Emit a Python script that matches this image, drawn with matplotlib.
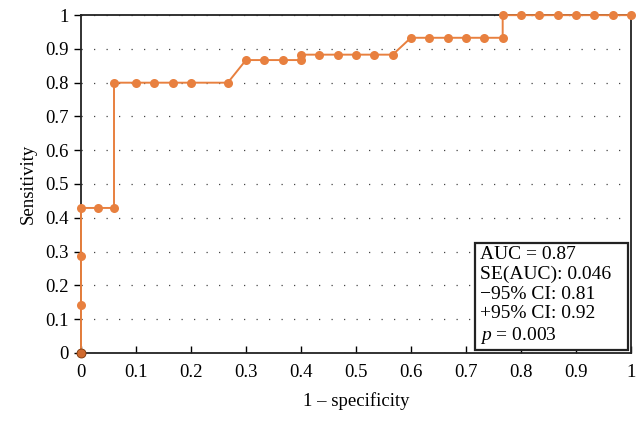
import matplotlib

matplotlib.use('Agg')

import matplotlib.pyplot as plt
from matplotlib.patches import Rectangle

plt.rcParams.update({
    'font.family': 'Liberation Serif',
    'font.size': 12,
    'mathtext.fontset': 'custom',
    'mathtext.rm': 'Liberation Serif',
    'mathtext.it': 'Liberation Serif:italic',
})

# ROC points
fpr = [0, 0, 0, 0, 0.03, 0.06, 0.06, 0.1, 0.133, 0.167, 0.2, 0.267,
       0.3, 0.333, 0.367, 0.4, 0.4, 0.433, 0.467, 0.5, 0.533, 0.567,
       0.6, 0.633, 0.667, 0.7, 0.733, 0.767, 0.767, 0.8, 0.833, 0.867,
       0.9, 0.933, 0.967, 1.0]
tpr = [0, 0.143, 0.286, 0.429, 0.429, 0.429, 0.8, 0.8, 0.8, 0.8, 0.8, 0.8,
       0.867, 0.867, 0.867, 0.867, 0.883, 0.883, 0.883, 0.883, 0.883, 0.883,
       0.933, 0.933, 0.933, 0.933, 0.933, 0.933, 1.0, 1.0, 1.0, 1.0,
       1.0, 1.0, 1.0, 1.0]

stats_lines = ['AUC = 0.87', 'SE(AUC): 0.046', '\u221295% CI: 0.81',
               '+95% CI: 0.92', '$p$ = 0.003']

orange = '#E8803F'

fig = plt.figure(figsize=(6.43, 4.21), dpi=100)
ax = fig.add_axes([0.126, 0.162, 0.855, 0.802])

ax.plot(fpr, tpr, color=orange, linewidth=1.4, marker='o', markersize=6.5,
        markeredgewidth=0, zorder=3, clip_on=False)
ax.plot([0], [0], 'o', color='#D06A2E', markersize=6.5, markeredgecolor='#7a3a10',
        markeredgewidth=0.6, zorder=4, clip_on=False)

ax.set_xlim(0, 1)
ax.set_ylim(0, 1)
ax.set_xticks([i / 10 for i in range(11)])
ax.set_yticks([i / 10 for i in range(11)])
ax.set_xticklabels(['0', '0.1', '0.2', '0.3', '0.4', '0.5', '0.6', '0.7', '0.8', '0.9', '1'])
ax.set_yticklabels(['0', '0.1', '0.2', '0.3', '0.4', '0.5', '0.6', '0.7', '0.8', '0.9', '1'])
ax.tick_params(axis='x', direction='in', length=5, width=1, pad=8, labelsize=13.5)
ax.tick_params(axis='y', direction='out', length=5, width=1, pad=4, labelsize=13.5)

for s in ax.spines.values():
    s.set_linewidth(1.3)
    s.set_color('#222222')

ax.yaxis.grid(True, linestyle=(0, (1, 9)), color='#444444', linewidth=0.9)
ax.set_axisbelow(True)

ax.set_xlabel('1 \u2013 specificity', fontsize=13.5, labelpad=8)
ax.set_ylabel('Sensitivity', fontsize=13.5, labelpad=6)

# stats box
ax.add_patch(Rectangle((0.716, 0.009), 0.279, 0.316, facecolor='white',
                       edgecolor='#222222', linewidth=1.6, zorder=5))
ax.text(0.725, 0.316, '\n'.join(stats_lines), fontsize=14, ha='left', va='top',
        linespacing=1.2, zorder=6)

plt.savefig('out.png', dpi=100)
